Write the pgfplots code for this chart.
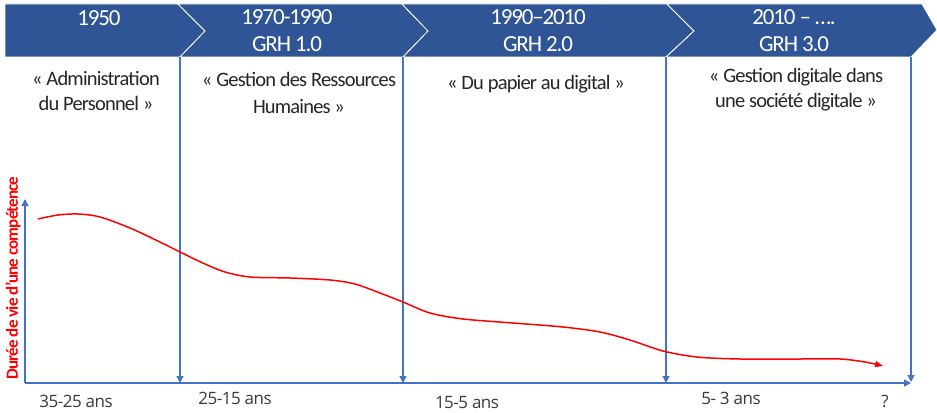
\documentclass[border=0pt]{standalone}
\usepackage{pgfplots}
\pgfplotsset{compat=1.18}
\usepackage{fontspec}
\setmainfont{Carlito}
\newfontfamily\banfont[LetterSpace=-5]{Carlito}
\newfontfamily\descfont[LetterSpace=-4]{Carlito}
\newfontfamily\ylabfont[LetterSpace=-5]{Carlito}
\newfontfamily\labfont[LetterSpace=-3]{Open Sans}
\usetikzlibrary{arrows.meta}
\definecolor{banner}{HTML}{2F5597}
\definecolor{lineblue}{HTML}{4472C4}
\definecolor{txt}{HTML}{262626}
\definecolor{labtxt}{HTML}{3A3A3A}
\begin{document}
\begin{tikzpicture}
\begin{axis}[
  width=937bp, height=413bp, scale only axis,
  xmin=0, xmax=937, ymin=0, ymax=413, y dir=reverse,
  axis line style={draw=none}, xtick=\empty, ytick=\empty,
  axis background/.style={fill=white},
  clip=true,
]
% banner chevrons
\addplot[fill=banner, draw=white, line width=0.8bp] coordinates {(5,4) (178,4) (205,31) (180,57) (5,57)} -- cycle;
\addplot[fill=banner, draw=white, line width=0.8bp] coordinates {(178,4) (402,4) (428,31) (403,57) (180,57) (205,31)} -- cycle;
\addplot[fill=banner, draw=white, line width=0.8bp] coordinates {(402,4) (667,4) (694,31) (666,57) (403,57) (428,31)} -- cycle;
\addplot[fill=banner, draw=white, line width=0.8bp] coordinates {(667,4) (922,4) (937,30) (911,57) (666,57) (694,31)} -- cycle;

% vertical separators
\addplot[lineblue, line width=1.3bp, -{Triangle[length=7bp,width=7bp]}] coordinates {(180,57) (180,383)};
\addplot[lineblue, line width=1.3bp, -{Triangle[length=7bp,width=7bp]}] coordinates {(403,57) (403,383)};
\addplot[lineblue, line width=1.3bp, -{Triangle[length=7bp,width=7bp]}] coordinates {(666,57) (666,383)};
\addplot[lineblue, line width=1.3bp, -{Triangle[length=7bp,width=7bp]}] coordinates {(911,57) (911,382)};

% axes
\addplot[lineblue, line width=1.3bp, -{Triangle[length=7bp,width=7bp]}] coordinates {(25,383) (911,383)};
\addplot[lineblue, line width=1.3bp, -{Triangle[length=7bp,width=7bp]}] coordinates {(25,383) (25,199)};

% curve
\addplot[red, line width=1.5bp, smooth, -{Triangle[length=8bp,width=6bp]}] coordinates {
(38,219) (58,215) (78,214) (100,217) (130,228) (160,242) (180,252) (205,264) (225,272) (250,277)
(290,278) (330,280) (355,284) (380,293) (403,302) (430,313) (463,319) (513,323) (563,327)
(600,332) (630,340) (663,351) (697,357) (740,359) (800,359) (840,359) (865,362) (883,366)};

% banner texts
\node[text=white, font=\banfont\fontsize{23bp}{27bp}\selectfont] at (axis cs:99,18) {1950};
\node[text=white, font=\banfont\fontsize{23bp}{27bp}\selectfont, align=center] at (axis cs:287,31) {1970-1990\\GRH 1.0};
\node[text=white, font=\banfont\fontsize{23bp}{27bp}\selectfont, align=center] at (axis cs:538,31) {1990–2010\\GRH 2.0};
\node[text=white, font=\banfont\fontsize{23bp}{27bp}\selectfont, align=center] at (axis cs:794,31) {2010 – ….\\GRH 3.0};

% descriptions
\node[text=txt, font=\descfont\fontsize{20.5bp}{25bp}\selectfont, align=center] at (axis cs:96,91) {« Administration\\du Personnel »};
\node[text=txt, font=\descfont\fontsize{20.5bp}{27bp}\selectfont, align=center] at (axis cs:299,93) {« Gestion des Ressources\\Humaines »};
\node[text=txt, font=\descfont\fontsize{20.5bp}{25bp}\selectfont, align=center] at (axis cs:536,84) {« Du papier au digital »};
\node[text=txt, font=\descfont\fontsize{20.5bp}{25bp}\selectfont, align=center] at (axis cs:796,90) {« Gestion digitale dans\\une société digitale »};

% y label
\node[text=red, rotate=90, font=\ylabfont\fontsize{17bp}{20bp}\selectfont\bfseries] at (axis cs:13,278) {Durée de vie d’une compétence};

% bottom labels
\node[text=labtxt, font=\labfont\fontsize{17bp}{19bp}\selectfont] at (axis cs:76,401) {35-25 ans};
\node[text=labtxt, font=\labfont\fontsize{17bp}{19bp}\selectfont] at (axis cs:235,398) {25-15 ans};
\node[text=labtxt, font=\labfont\fontsize{17bp}{19bp}\selectfont] at (axis cs:467,403) {15-5 ans};
\node[text=labtxt, font=\labfont\fontsize{17bp}{19bp}\selectfont] at (axis cs:731,398) {5- 3 ans};
\node[text=labtxt, font=\labfont\fontsize{17bp}{19bp}\selectfont] at (axis cs:885,401) {?};
\end{axis}
\end{tikzpicture}
\end{document}
